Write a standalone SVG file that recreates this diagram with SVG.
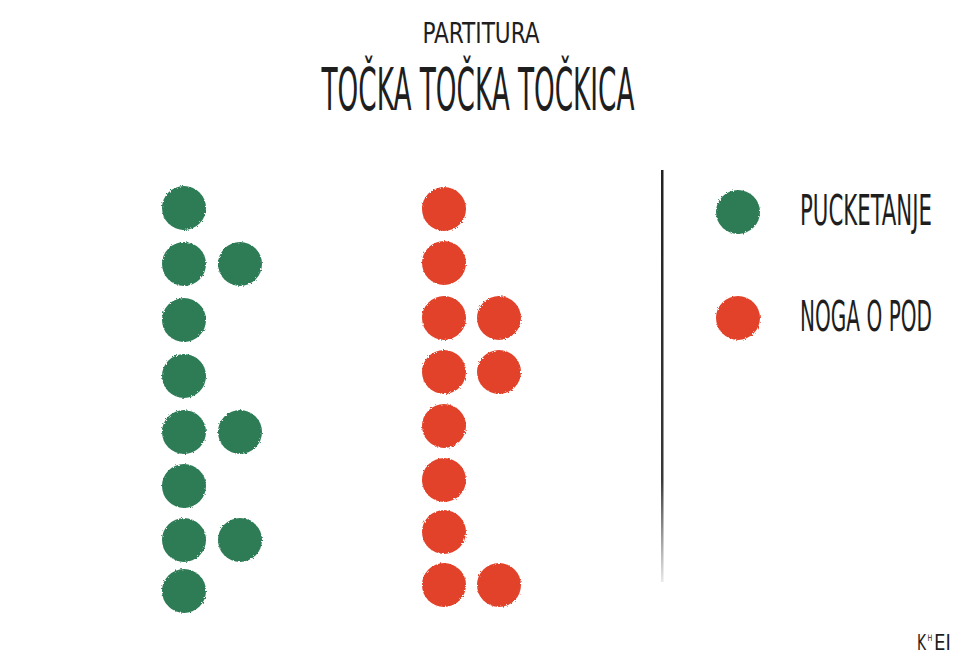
<svg xmlns="http://www.w3.org/2000/svg" width="958" height="657" viewBox="0 0 958 657">
<defs>
<style>
.t{font-family:"DejaVu Sans Condensed","Liberation Sans",sans-serif;fill:#1e1e1e;font-weight:normal}
.g{fill:#2e7c57}
.r{fill:#e2432b}
</style>
<filter id="rough" x="-20%" y="-20%" width="140%" height="140%">
<feTurbulence type="fractalNoise" baseFrequency="0.6" numOctaves="2" seed="3"/>
<feDisplacementMap in="SourceGraphic" scale="3"/>
</filter>
<linearGradient id="fade" x1="0" y1="0" x2="0" y2="1">
<stop offset="0" stop-color="#222" stop-opacity="1"/>
<stop offset="0.75" stop-color="#222" stop-opacity="0.9"/>
<stop offset="1" stop-color="#222" stop-opacity="0.1"/>
</linearGradient>
</defs>
<rect width="958" height="657" fill="#ffffff"/>
<g id="title">
<text class="t" transform="translate(481,43) scale(0.62,1)" font-size="28" text-anchor="middle" textLength="189" lengthAdjust="spacingAndGlyphs">PARTITURA</text>
<text class="t" transform="translate(478,110) scale(0.55,1)" font-size="58" text-anchor="middle" textLength="569" lengthAdjust="spacingAndGlyphs">TOČKA TOČKA TOČKICA</text>
</g>
<g id="green-column" filter="url(#rough)">
<circle class="g" cx="184" cy="208" r="22"/>
<circle class="g" cx="184" cy="264" r="22"/>
<circle class="g" cx="240" cy="264" r="22"/>
<circle class="g" cx="184" cy="320" r="22"/>
<circle class="g" cx="184" cy="376" r="22"/>
<circle class="g" cx="184" cy="432" r="22"/>
<circle class="g" cx="240" cy="432" r="22"/>
<circle class="g" cx="184" cy="486" r="22"/>
<circle class="g" cx="184" cy="540" r="22"/>
<circle class="g" cx="240" cy="540" r="22"/>
<circle class="g" cx="184" cy="591" r="22"/>
</g>
<g id="red-column" filter="url(#rough)">
<circle class="r" cx="444" cy="209" r="22"/>
<circle class="r" cx="444" cy="263" r="22"/>
<circle class="r" cx="444" cy="318" r="22"/>
<circle class="r" cx="499" cy="318" r="22"/>
<circle class="r" cx="444" cy="372" r="22"/>
<circle class="r" cx="499" cy="372" r="22"/>
<circle class="r" cx="444" cy="426" r="22"/>
<circle class="r" cx="444" cy="480" r="22"/>
<circle class="r" cx="444" cy="532" r="22"/>
<circle class="r" cx="444" cy="585" r="22"/>
<circle class="r" cx="499" cy="585" r="22"/>
</g>
<g id="divider">
<rect x="661" y="170" width="2.5" height="412" fill="url(#fade)"/>
</g>
<g id="legend-pucketanje">
<circle class="g" cx="738" cy="212" r="22" filter="url(#rough)"/>
<text class="t" transform="translate(800,225) scale(0.55,1)" font-size="42" textLength="240" lengthAdjust="spacingAndGlyphs">PUCKETANJE</text>
</g>
<g id="legend-noga">
<circle class="r" cx="738" cy="318" r="22" filter="url(#rough)"/>
<text class="t" transform="translate(800,331) scale(0.55,1)" font-size="42" textLength="240" lengthAdjust="spacingAndGlyphs">NOGA O POD</text>
</g>
<g id="signature">
<text class="t" transform="translate(917,650) scale(0.6,1)" font-size="22" textLength="15" lengthAdjust="spacingAndGlyphs">K</text>
<text class="t" transform="translate(927.5,641) scale(0.6,1)" font-size="9" textLength="8" lengthAdjust="spacingAndGlyphs">H</text>
<text class="t" transform="translate(934,650) scale(0.6,1)" font-size="22" textLength="28" lengthAdjust="spacingAndGlyphs">EI</text>
</g>
</svg>
